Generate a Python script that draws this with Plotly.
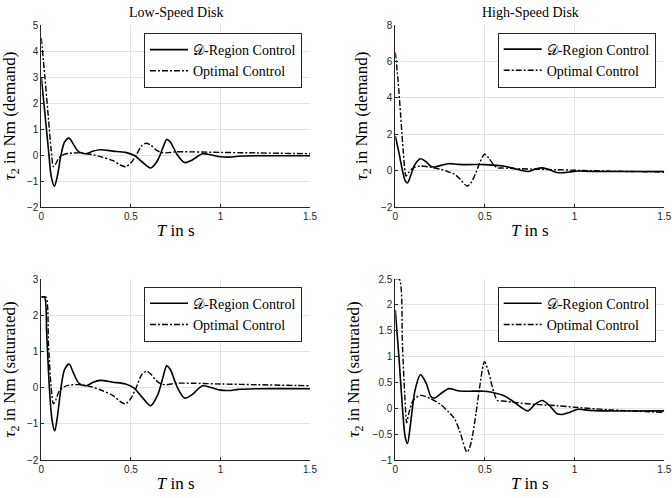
import plotly.graph_objects as go

# ---- data ----
# low-speed disk, demand
t_ls_dr = [0, 0.02, 0.04, 0.055, 0.073, 0.09, 0.11, 0.13, 0.155, 0.18, 0.21, 0.25, 0.29, 0.33, 0.4,
           0.47, 0.52, 0.56, 0.61, 0.65, 0.68, 0.70, 0.72, 0.76, 0.80, 0.84, 0.9, 0.95, 1.0, 1.05,
           1.1, 1.2, 1.5]
y_ls_dr = [3.0, 1.6, 0.2, -0.8, -1.2, -0.8, 0.0, 0.5, 0.65, 0.4, 0.12, 0.05, 0.15, 0.2, 0.15,
           0.1, -0.02, -0.25, -0.5, -0.2, 0.3, 0.6, 0.5, 0.0, -0.29, -0.2, 0.05, 0.0, -0.07, -0.08,
           -0.05, -0.03, -0.03]
t_ls_opt = [0, 0.02, 0.04, 0.055, 0.068, 0.08, 0.1, 0.13, 0.16, 0.22, 0.28, 0.34, 0.4, 0.44, 0.47,
            0.5, 0.53, 0.56, 0.585, 0.61, 0.64, 0.67, 0.7, 0.75, 0.85, 1.0, 1.2, 1.5]
y_ls_opt = [4.5, 3.0, 1.4, 0.2, -0.45, -0.35, -0.1, 0.03, 0.07, 0.08, 0.02, -0.08, -0.22, -0.38, -0.45,
            -0.3, 0.0, 0.35, 0.45, 0.38, 0.2, 0.1, 0.08, 0.12, 0.12, 0.1, 0.08, 0.05]

# low-speed disk, saturated
t_ls_dr_sat = [0, 0.018, 0.03, 0.045, 0.06, 0.075, 0.09] + t_ls_dr[6:]
y_ls_dr_sat = [2.5, 2.5, 1.5, 0.0, -0.9, -1.2, -0.8] + y_ls_dr[6:]
t_ls_opt_sat = [0, 0.025, 0.04, 0.055, 0.068, 0.08] + t_ls_opt[6:]
y_ls_opt_sat = [2.5, 2.5, 1.2, 0.0, -0.45, -0.35] + y_ls_opt[6:]

# high-speed disk, demand
t_hs_dr = [0, 0.02, 0.04, 0.055, 0.068, 0.085, 0.11, 0.14, 0.17, 0.2, 0.22, 0.26, 0.3, 0.35, 0.4,
           0.5, 0.55, 0.6, 0.65, 0.7, 0.74, 0.78, 0.82, 0.86, 0.9, 0.93, 0.97, 1.02, 1.08, 1.15, 1.5]
y_hs_dr = [1.9, 1.0, 0.0, -0.55, -0.68, -0.3, 0.35, 0.65, 0.5, 0.22, 0.2, 0.3, 0.38, 0.34, 0.33,
           0.33, 0.3, 0.25, 0.15, 0.02, -0.05, 0.08, 0.15, 0.05, -0.1, -0.12, -0.08, -0.02, -0.04,
           -0.05, -0.05]
t_hs_opt = [0, 0.015, 0.03, 0.045, 0.06, 0.075, 0.1, 0.14, 0.2, 0.25, 0.3, 0.33, 0.36, 0.4, 0.42,
            0.45, 0.47, 0.497, 0.52, 0.55, 0.57, 0.6, 0.7, 0.8, 0.9, 1.0, 1.2, 1.5]
y_hs_opt = [6.5, 5.0, 3.0, 1.0, -0.3, -0.1, 0.15, 0.25, 0.18, 0.08, -0.08, -0.2, -0.45, -0.85, -0.7,
            -0.1, 0.4, 0.9, 0.7, 0.3, 0.15, 0.14, 0.1, 0.07, 0.05, 0.02, -0.03, -0.08]

# high-speed disk, saturated
t_hs_dr_sat = t_hs_dr
y_hs_dr_sat = y_hs_dr
t_hs_opt_sat = [0, 0.022, 0.04, 0.052, 0.064] + t_hs_opt[5:]
y_hs_opt_sat = [2.5, 2.5, 1.2, 0.3, -0.28] + y_hs_opt[5:]

x_ticks = [0, 0.5, 1, 1.5]
x_ticklabels = ['0', '0.5', '1', '1.5']

panels = [
    # (xaxis id, t_dr, y_dr, t_opt, y_opt, y range, y dtick, y label, legend name)
    ('', t_ls_dr, y_ls_dr, t_ls_opt, y_ls_opt, [-2, 5], 1, '(demand)', 'legend'),
    ('2', t_hs_dr, y_hs_dr, t_hs_opt, y_hs_opt, [-2, 8], 2, '(demand)', 'legend2'),
    ('3', t_ls_dr_sat, y_ls_dr_sat, t_ls_opt_sat, y_ls_opt_sat, [-2, 3], 1, '(saturated)', 'legend3'),
    ('4', t_hs_dr_sat, y_hs_dr_sat, t_hs_opt_sat, y_hs_opt_sat, [-1, 2.5], 0.5, '(saturated)', 'legend4'),
]

W, H = 672, 498


def px(x):
    return x / W


def py(y):
    return 1 - y / H


x_doms = [[px(41.3), px(310)], [px(395.3), px(664.3)]]
y_doms = [[py(207), py(25)], [py(460), py(279)]]
legend_pos = [(px(144), py(33)), (px(497.7), py(32.5)), (px(144), py(286.7)), (px(497.7), py(286.7))]

serif = 'Liberation Serif, Times New Roman, serif'
sans = 'Liberation Sans, Arial, sans-serif'
dark = '#262626'

fig = go.Figure()
layout = {}

for i, (ax, t1, y1, t2, y2, yr, dt, ylab, leg) in enumerate(panels):
    xa = 'x' + ax
    ya = 'y' + ax
    fig.add_trace(go.Scatter(x=t1, y=y1, mode='lines', name='𝒟-Region Control',
                             line=dict(color='black', width=1.6, shape='spline', smoothing=0.8),
                             xaxis=xa, yaxis=ya, legend=leg))
    fig.add_trace(go.Scatter(x=t2, y=y2, mode='lines', name='Optimal Control',
                             line=dict(color='black', width=1.4, dash='6px,2px,2px,2px',
                                       shape='spline', smoothing=0.8),
                             xaxis=xa, yaxis=ya, legend=leg))
    r, c = divmod(i, 2)
    layout['xaxis' + ax] = dict(
        domain=x_doms[c], anchor=ya, range=[0, 1.5], tickvals=x_ticks, ticktext=x_ticklabels,
        showgrid=True, gridcolor='#e3e3e3', showline=True, linecolor=dark, linewidth=1,
        ticks='inside', ticklen=3, tickcolor=dark, zeroline=False, automargin=False,
        tickfont=dict(family=sans, size=10, color=dark),
        title=dict(text='<i>T</i> in s', font=dict(family=serif, size=17, color='black'), standoff=3),
    )
    layout['yaxis' + ax] = dict(
        domain=y_doms[r], anchor=xa, range=yr, dtick=dt,
        showgrid=True, gridcolor='#e3e3e3', showline=True, linecolor=dark, linewidth=1,
        ticks='inside', ticklen=3, tickcolor=dark, zeroline=False, automargin=False,
        tickfont=dict(family=sans, size=10, color=dark),
        title=dict(text='<i>τ</i><sub>2</sub> in Nm ' + ylab,
                   font=dict(family=serif, size=17, color='black'), standoff=8),
    )
    lx, ly = legend_pos[i]
    layout[leg] = dict(x=lx, y=ly, xanchor='left', yanchor='top', bgcolor='white',
                       bordercolor=dark, borderwidth=1, itemwidth=38,
                       font=dict(family=serif, size=14, color='black'), tracegroupgap=0)

fig.update_layout(**layout)
fig.update_layout(
    width=W, height=H, margin=dict(l=0, r=0, t=0, b=0, autoexpand=False),
    plot_bgcolor='white', paper_bgcolor='white', showlegend=True,
    annotations=[
        dict(text='Low-Speed Disk', x=px(176), y=py(13), xref='paper', yref='paper',
             xanchor='center', yanchor='middle',
             showarrow=False, font=dict(family=serif, size=14, color='black')),
        dict(text='High-Speed Disk', x=px(530), y=py(13), xref='paper', yref='paper',
             xanchor='center', yanchor='middle',
             showarrow=False, font=dict(family=serif, size=14, color='black')),
    ],
)

# drop the default 8px page margin so the figure fills the window exactly
fig.write_html('out.html', config={'displayModeBar': False},
               post_script="document.body.style.margin='0';")
